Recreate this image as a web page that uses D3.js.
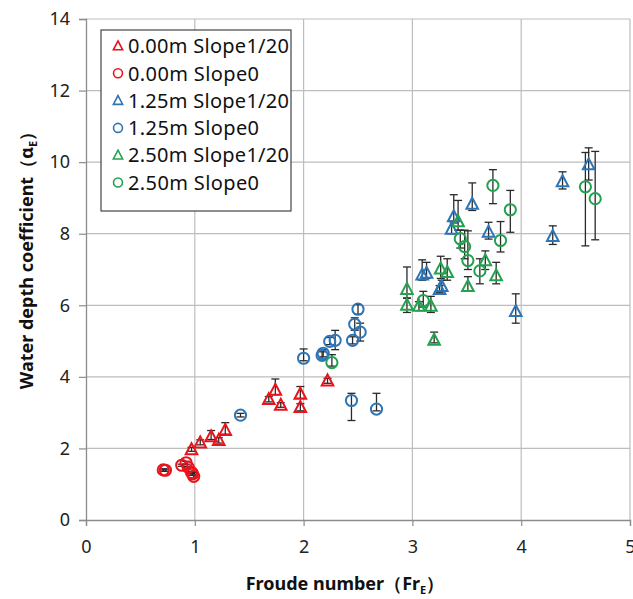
<!DOCTYPE html>
<html>
<head>
<meta charset="utf-8">
<script src="https://cdn.jsdelivr.net/npm/d3@7"></script>
<style>
  body { margin: 0; background: #fff; }
  text { font-family: "Noto Sans", "Open Sans", sans-serif; }
</style>
</head>
<body>
<div id="chart"></div>
<script>
// each point: [Fr, alpha, errLow, errHigh]
const red_slope20 = [
  [0.97, 1.97, 1.92, 2.03], [1.05, 2.16, 2.1, 2.24], [1.15, 2.33, 2.25, 2.50],
  [1.22, 2.23, 2.15, 2.3], [1.28, 2.51, 2.4, 2.72], [1.68, 3.37, 3.3, 3.45],
  [1.74, 3.63, 3.5, 3.94], [1.79, 3.21, 3.15, 3.28], [1.97, 3.52, 3.4, 3.73],
  [1.97, 3.15, 3.05, 3.25], [2.22, 3.89, 3.82, 3.96]
]
const red_slope0 = [
  [0.71, 1.40, 1.37, 1.43], [0.73, 1.39, 1.36, 1.42], [0.88, 1.53, 1.5, 1.56],
  [0.92, 1.60, 1.56, 1.64], [0.94, 1.47, 1.43, 1.5], [0.97, 1.33, 1.3, 1.36],
  [0.99, 1.22, 1.18, 1.26], [0.98, 1.29, 1.25, 1.33]
]
const blue_slope20 = [
  [3.09, 6.85, 6.7, 7.27], [3.13, 6.90, 6.75, 7.2], [3.27, 6.53, 6.4, 6.7],
  [3.25, 6.45, 6.35, 6.55], [3.38, 8.48, 8.3, 9.09], [3.36, 8.13, 8.0, 8.35],
  [3.55, 8.83, 8.65, 9.42], [3.70, 8.05, 7.85, 8.32], [3.95, 5.83, 5.5, 6.32],
  [4.29, 7.93, 7.7, 8.22], [4.38, 9.46, 9.25, 9.73], [4.62, 9.93, 9.5, 10.40]
]
const blue_slope0 = [
  [1.42, 2.93, 2.88, 2.98], [2.00, 4.52, 4.45, 4.78], [2.17, 4.60, 4.5, 4.7],
  [2.18, 4.66, 4.56, 4.76], [2.24, 4.99, 4.9, 5.1], [2.29, 5.02, 4.76, 5.30],
  [2.45, 5.02, 4.92, 5.12], [2.47, 5.47, 5.3, 5.65], [2.52, 5.25, 5.0, 5.50],
  [2.50, 5.89, 5.75, 6.02], [2.44, 3.34, 2.78, 3.54], [2.67, 3.10, 3.05, 3.54]
]
const green_slope20 = [
  [2.95, 6.45, 6.2, 7.07], [2.95, 6.01, 5.8, 6.2], [3.06, 5.98, 5.85, 6.1],
  [3.17, 5.98, 5.8, 6.25], [3.20, 5.03, 4.95, 5.25], [3.26, 7.02, 6.75, 7.37],
  [3.32, 6.92, 6.7, 7.3], [3.42, 8.34, 8.1, 8.93], [3.51, 6.53, 6.4, 6.8],
  [3.67, 7.25, 7.0, 7.52], [3.77, 6.83, 6.6, 7.2]
]
const green_slope0 = [
  [2.26, 4.40, 4.3, 4.62], [3.10, 6.13, 5.95, 6.39], [3.44, 7.86, 7.6, 8.1],
  [3.48, 7.64, 7.3, 8.1], [3.51, 7.25, 7.0, 8.08], [3.62, 6.96, 6.6, 7.3],
  [3.74, 9.35, 8.84, 9.79], [3.81, 7.81, 7.49, 8.34], [3.90, 8.67, 8.04, 9.21],
  [4.59, 9.31, 7.66, 10.27], [4.68, 8.98, 7.83, 10.30]
]
const xTicks = [0, 1, 2, 3, 4, 5]
const yTicks = [0, 2, 4, 6, 8, 10, 12, 14]

const series = [
  {name: '0.00m Slope1/20', data: red_slope20, color: '#e8141c', shape: 'tri'},
  {name: '0.00m Slope0', data: red_slope0, color: '#e8141c', shape: 'circ'},
  {name: '1.25m Slope1/20', data: blue_slope20, color: '#2e75b6', shape: 'tri'},
  {name: '1.25m Slope0', data: blue_slope0, color: '#2e75b6', shape: 'circ'},
  {name: '2.50m Slope1/20', data: green_slope20, color: '#22a24e', shape: 'tri'},
  {name: '2.50m Slope0', data: green_slope0, color: '#22a24e', shape: 'circ'}
]

const width = 633, height = 599
const margin = {top: 19, right: 3, bottom: 79, left: 86}
const w = width - margin.left - margin.right,
  h = height - margin.top - margin.bottom

const xScale = d3.scaleLinear().domain([0, 5]).range([0, w])
const yScale = d3.scaleLinear().domain([0, 14]).range([h, 0])

const svg = d3.select('#chart').append('svg')
  .attr('width', width)
  .attr('height', height)

const g = svg.append('g')
  .attr('transform', `translate(${margin.left}, ${margin.top})`)

// gridlines
g.append('g').selectAll('line')
  .data(xTicks.slice(1))
  .enter().append('line')
  .attr('x1', d => xScale(d)).attr('x2', d => xScale(d))
  .attr('y1', 0).attr('y2', yScale(0))
  .attr('stroke', '#bdbdbd').attr('stroke-width', 1.2)
g.append('g').selectAll('line')
  .data(yTicks.slice(1))
  .enter().append('line')
  .attr('x1', 0).attr('x2', xScale(5))
  .attr('y1', d => yScale(d)).attr('y2', d => yScale(d))
  .attr('stroke', '#bdbdbd').attr('stroke-width', 1.2)

// axes
const xAxis = g.append('g')
  .attr('transform', `translate(0, ${yScale(0)})`)
  .call(d3.axisBottom(xScale).tickValues(xTicks).tickFormat(d3.format('d'))
    .tickSize(6).tickPadding(14))
const yAxis = g.append('g')
  .call(d3.axisLeft(yScale).tickValues(yTicks).tickFormat(d3.format('d'))
    .tickSize(7).tickPadding(9))
;[xAxis, yAxis].forEach(a => {
  a.select('.domain').attr('stroke', '#8c8c8c').attr('stroke-width', 1.3)
  a.selectAll('.tick line').attr('stroke', '#8c8c8c').attr('stroke-width', 1.2)
  a.selectAll('.tick text').attr('fill', '#222').style('font-size', '18px')
})

// error bars
const errG = g.append('g')
series.forEach(s => {
  const e = errG.append('g').selectAll('g')
    .data(s.data)
    .enter().append('g')
    .attr('stroke', '#2a2a2a').attr('stroke-width', 1.3)
  e.append('line')
    .attr('x1', d => xScale(d[0])).attr('x2', d => xScale(d[0]))
    .attr('y1', d => yScale(d[2])).attr('y2', d => yScale(d[3]))
  e.append('line')
    .attr('x1', d => xScale(d[0]) - 4).attr('x2', d => xScale(d[0]) + 4)
    .attr('y1', d => yScale(d[3])).attr('y2', d => yScale(d[3]))
  e.append('line')
    .attr('x1', d => xScale(d[0]) - 4).attr('x2', d => xScale(d[0]) + 4)
    .attr('y1', d => yScale(d[2])).attr('y2', d => yScale(d[2]))
})

const triPath = 'M0,-6.3L5.8,4.7L-5.8,4.7Z'
function marker(sel, s) {
  if (s.shape === 'tri') {
    sel.append('path').attr('d', triPath)
  } else {
    sel.append('circle').attr('r', 5.6)
  }
  sel.selectAll('path, circle')
    .attr('fill', 'none')
    .attr('stroke', s.color)
    .attr('stroke-width', 2)
}

series.forEach(s => {
  const pts = g.append('g').selectAll('g')
    .data(s.data)
    .enter().append('g')
    .attr('transform', d => `translate(${xScale(d[0])}, ${yScale(d[1])})`)
  marker(pts, s)
})

// legend
const legend = svg.append('g').attr('transform', 'translate(101, 30)')
legend.append('rect')
  .attr('width', 190).attr('height', 181)
  .attr('fill', '#fff').attr('stroke', '#444').attr('stroke-width', 1.2)
series.forEach((s, i) => {
  const row = legend.append('g').attr('transform', `translate(17, ${16 + i * 27.3})`)
  marker(row, s)
  row.selectAll('path, circle').attr('transform', 'scale(0.8)')
  row.append('text')
    .attr('x', 10).attr('y', 0).attr('dy', '0.36em')
    .style('font-size', '20px').attr('fill', '#111')
    .attr('textLength', s.name.length > 12 ? 161 : 131)
    .text(s.name)
})

// axis titles
const xt = svg.append('text')
  .attr('x', 345).attr('y', 590)
  .attr('text-anchor', 'middle')
  .style('font-size', '18px').style('font-weight', 'bold').attr('fill', '#111')
xt.append('tspan').text('Froude number（Fr')
xt.append('tspan').text('E').style('font-size', '11px').attr('dy', 4)
xt.append('tspan').text('）').attr('dy', -4)

const yt = svg.append('text')
  .attr('transform', 'translate(33, 256) rotate(-90)')
  .attr('text-anchor', 'middle')
  .style('font-size', '18px').style('font-weight', 'bold').attr('fill', '#111')
yt.append('tspan').text('Water depth coefficient（α')
yt.append('tspan').text('E').style('font-size', '11px').attr('dy', 4)
yt.append('tspan').text('）').attr('dy', -4)
</script>
</body>
</html>
